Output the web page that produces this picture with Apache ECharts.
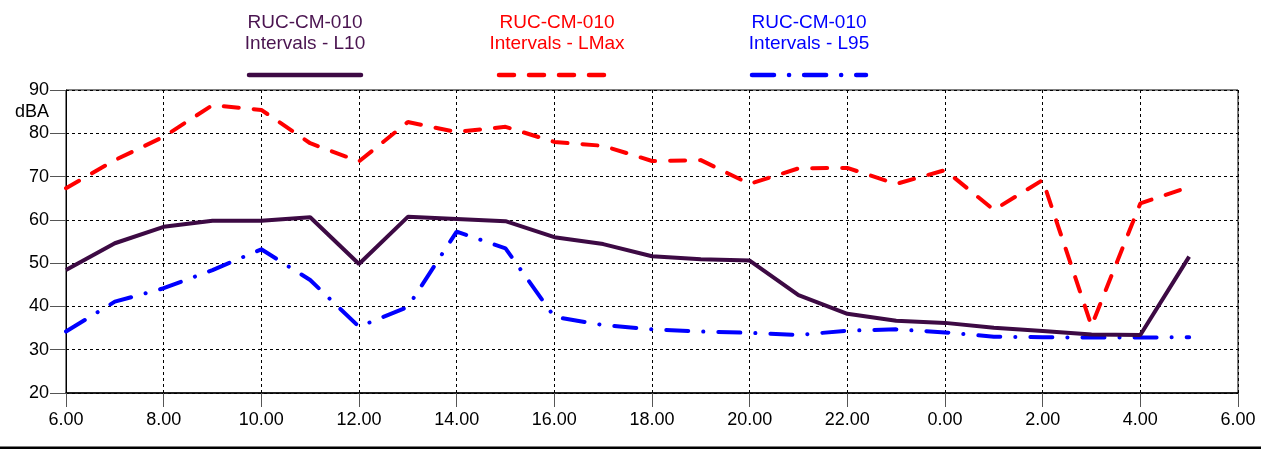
<!DOCTYPE html>
<html>
<head>
<meta charset="utf-8">
<script src="https://cdn.jsdelivr.net/npm/echarts@6/dist/echarts.min.js"></script>
<style>html,body{margin:0;padding:0;background:#fff}#c{width:1261px;height:450px}</style>
</head>
<body>
<div id="c"></div>
<script>
// hours after 6.00 (0 = 6.00, 23 = 5.00 next day)
const hours = [0,1,2,3,4,5,6,7,8,9,10,11,12,13,14,15,16,17,18,19,20,21,22,23];
const l10  = [48.4,54.6,58.4,59.8,59.8,60.6,49.8,60.7,60.2,59.7,56.0,54.4,51.6,50.9,50.6,42.6,38.3,36.7,36.2,35.1,34.3,33.5,33.4,51.5];
const lmax = [67.3,73.8,79.2,86.5,85.4,77.7,73.5,82.6,80.3,81.5,78.0,77.1,73.6,73.8,68.3,71.9,72.0,68.3,71.5,62.3,69.2,35.5,63.8,67.6];
const l95  = [34.2,41.1,44.2,48.4,53.2,46.1,35.3,39.9,57.3,53.4,37.6,35.7,34.7,34.2,33.9,33.4,34.4,34.7,34.0,33.0,32.9,32.8,32.8,32.9];
const yTicks = [20,30,40,50,60,70,80,90];
const seriesNames = ['RUC-CM-010\nIntervals - L10','RUC-CM-010\nIntervals - LMax','RUC-CM-010\nIntervals - L95'];
const colors = ['#3d0a44','#ff0000','#0000ff'];
const textColors = ['#4a1450','#ff0000','#0000ff'];
const dashes = [null,[15,15],[22,15,0.1,15]];

const font = '"Liberation Sans", Arial, sans-serif';
const pair = v => hours.map((h,i)=>[h,v[i]]);

const chart = echarts.init(document.getElementById('c'), null, {renderer:'canvas'});
const legendX = [305, 557, 809];
const legendLine = [[247,363],[497,607],[750,868]];
const graphics = [];
seriesNames.forEach((n,i)=>{
  graphics.push({type:'text', x: legendX[i], y: 12, style:{text:n, fill:textColors[i], font:'19px '+font, textAlign:'center', textVerticalAlign:'top', lineHeight:21}});
  graphics.push({type:'line', shape:{x1:legendLine[i][0]+2, y1:75, x2:legendLine[i][1]-2, y2:75},
    style:{stroke:colors[i], lineWidth:4.5, lineCap:'round', lineDash: dashes[i] || null}});
});
graphics.push({type:'text', x:15, y:103, style:{text:'dBA', fill:'#000', font:'18px '+font}});
graphics.push({type:'rect', shape:{x:0,y:446.5,width:1261,height:2.5}, style:{fill:'#000'}});

chart.setOption({
  animation:false,
  backgroundColor:'#fff',
  grid:{left:66,right:23,top:90,bottom:57,show:true,borderColor:'#000',borderWidth:1},
  graphic: graphics,
  xAxis:{type:'value',min:0,max:24,interval:2,
    axisLine:{show:true,lineStyle:{color:'#000',width:1.5}},
    axisTick:{show:true,length:14,lineStyle:{color:'#555'}},
    axisLabel:{margin:18,color:'#000',fontSize:18,fontFamily:font,formatter:v=>((v+6)%24)+'.00'},
    splitLine:{show:true,lineStyle:{color:'#000',type:[3,3],width:1}}},
  yAxis:{type:'value',min:yTicks[0],max:yTicks[yTicks.length-1],interval:10,
    axisLine:{show:true,lineStyle:{color:'#000',width:1}},
    axisTick:{show:true,length:16,lineStyle:{color:'#555'}},
    axisLabel:{margin:17,color:'#000',fontSize:18,fontFamily:font},
    splitLine:{show:true,lineStyle:{color:'#000',type:[3,3],width:1}}},
  series:[
    {name:seriesNames[1],type:'line',data:pair(lmax),showSymbol:false,symbol:'none',
     lineStyle:{color:colors[1],width:4,type:dashes[1],cap:'round'}},
    {name:seriesNames[2],type:'line',data:pair(l95),showSymbol:false,symbol:'none',
     lineStyle:{color:colors[2],width:4,type:dashes[2],cap:'round'}},
    {name:seriesNames[0],type:'line',data:pair(l10),showSymbol:false,symbol:'none',
     lineStyle:{color:colors[0],width:4,type:'solid'}}
  ]
});
</script>
</body>
</html>
